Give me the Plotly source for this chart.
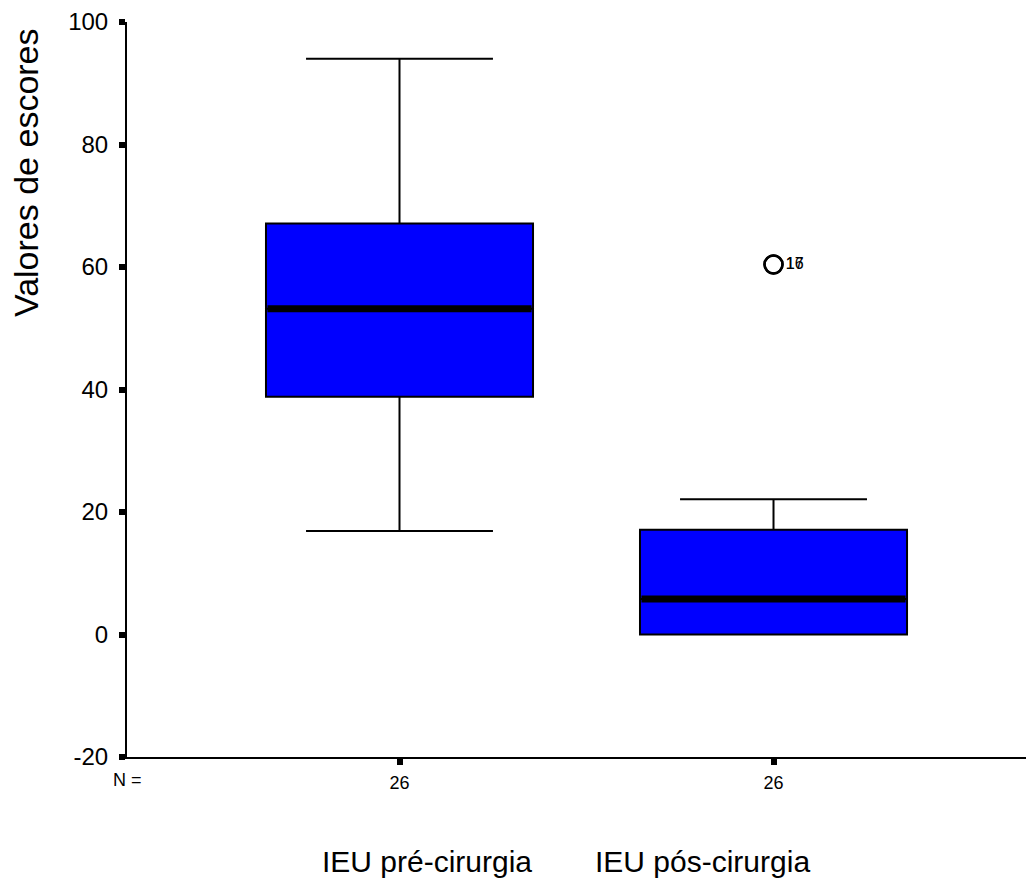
import plotly.graph_objects as go

# ---- data ----
categories = ["IEU pré-cirurgia", "IEU pós-cirurgia"]
positions = [1, 2]
n_values = [26, 26]
q1_vals = [38.8, 0.0]
median_vals = [53.2, 5.8]
q3_vals = [67.1, 17.1]
lower_whisker = [16.9, 0.0]
upper_whisker = [94.0, 22.1]
outlier_pos = [2, 2]
outlier_vals = [60.4, 60.4]
outlier_ids = ["16", "17"]
y_ticks = [-20, 0, 20, 40, 60, 80, 100]
y_tick_labels = ["-20", "0", "20", "40", "60", "80", "100"]

FONT = "Liberation Sans, Arial, sans-serif"
BOX_W = 0.714

fig = go.Figure()

for i, p in enumerate(positions):
    fig.add_trace(go.Box(
        x=[p], q1=[q1_vals[i]], median=[median_vals[i]], q3=[q3_vals[i]],
        lowerfence=[lower_whisker[i]], upperfence=[upper_whisker[i]],
        width=BOX_W, whiskerwidth=0.70,
        fillcolor="#0000FF", line=dict(color="black", width=2),
        boxpoints=False, showlegend=False, hoverinfo="skip",
    ))
    # thick median line
    fig.add_trace(go.Scatter(
        x=[p - BOX_W / 2 + 0.004, p + BOX_W / 2 - 0.004],
        y=[median_vals[i], median_vals[i]],
        mode="lines", line=dict(color="black", width=7),
        showlegend=False, hoverinfo="skip",
    ))

fig.add_trace(go.Scatter(
    x=outlier_pos, y=outlier_vals, mode="markers+text",
    text=outlier_ids, textposition="middle right",
    textfont=dict(family=FONT, size=16, color="black"),
    marker=dict(symbol="circle-open", size=18, color="black",
                line=dict(width=2.5, color="black")),
    showlegend=False, hoverinfo="skip",
))

# the page body has an 8px margin, so the figure is offset by 8px
fig.update_layout(
    width=1026, height=878,
    margin=dict(l=119, r=0, t=14, b=129),
    paper_bgcolor="white", plot_bgcolor="white",
    font=dict(family=FONT, color="black"),
    xaxis=dict(
        range=[0.2714, 2.6965], showgrid=False, zeroline=False,
        showline=True, linecolor="black", linewidth=2,
        tickmode="array", tickvals=positions, ticktext=[str(n) for n in n_values],
        ticks="outside", ticklen=6, tickwidth=6, tickcolor="black",
        tickfont=dict(family=FONT, size=18), ticklabelstandoff=2,
    ),
    yaxis=dict(
        range=[-20, 100], showgrid=False, zeroline=False,
        showline=True, linecolor="black", linewidth=2,
        tickmode="array", tickvals=y_ticks, ticktext=y_tick_labels,
        ticks="outside", ticklen=6, tickwidth=6, tickcolor="black",
        tickfont=dict(family=FONT, size=24), ticklabelstandoff=6,
    ),
)

annotations = [
    dict(text="Valores de escores", textangle=-90, xref="paper", yref="paper",
         x=(26 - 127) / 907, y=1 - (173 - 22) / 735, xanchor="center", yanchor="middle",
         showarrow=False, font=dict(family=FONT, size=34, color="black")),
    dict(text="N =", xref="paper", yref="paper",
         x=(127 - 127) / 907, y=1 - (780 - 22) / 735, xanchor="center", yanchor="middle",
         showarrow=False, font=dict(family=FONT, size=18, color="black")),
    dict(text=categories[0], xref="paper", yref="paper",
         x=(427 - 127) / 907, y=1 - (861 - 22) / 735, xanchor="center", yanchor="middle",
         showarrow=False, font=dict(family=FONT, size=30, color="black")),
    dict(text=categories[1], xref="paper", yref="paper",
         x=(702 - 127) / 907, y=1 - (861 - 22) / 735, xanchor="center", yanchor="middle",
         showarrow=False, font=dict(family=FONT, size=30, color="black")),
]
fig.update_layout(annotations=annotations)

fig.write_html("out.html")
